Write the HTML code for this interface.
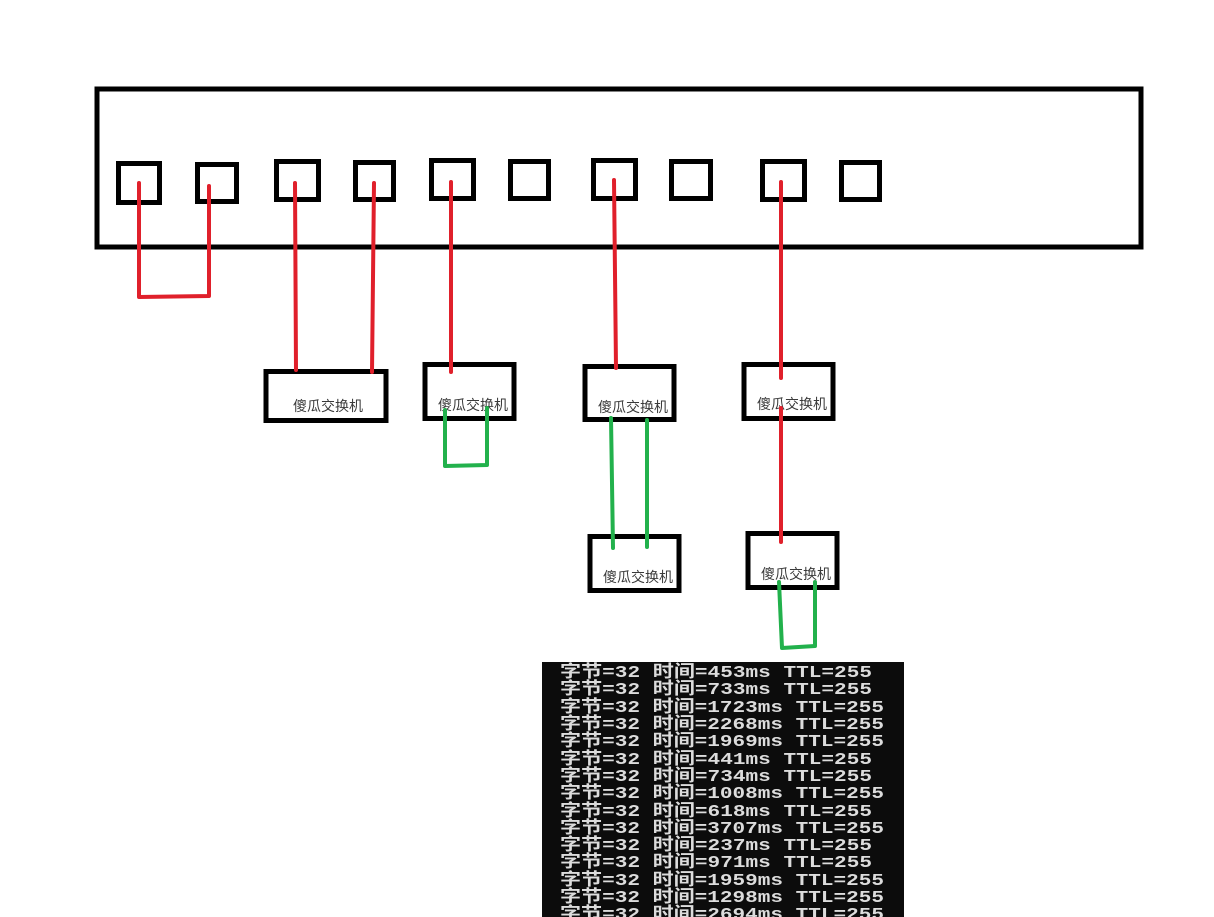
<!DOCTYPE html>
<html><head><meta charset="utf-8"><style>
html,body{margin:0;padding:0;background:#fff;}
svg{display:block;}
.t{font-family:"Liberation Sans","Noto Sans CJK SC",sans-serif;font-size:14px;fill:#3a3a3a;}
.m{font-family:"Liberation Mono","Noto Sans CJK SC",monospace;font-size:17px;font-weight:bold;fill:#dcdcdc;}
</style></head><body>
<svg width="1214" height="917" viewBox="0 0 1214 917" xmlns="http://www.w3.org/2000/svg">
<g fill="none" stroke="#000" stroke-width="5">
<rect x="97" y="89" width="1044" height="158"/>
<rect x="118.5" y="163.5" width="41" height="39"/>
<rect x="197.5" y="164.5" width="39" height="37"/>
<rect x="276.5" y="161.5" width="42" height="38"/>
<rect x="355.5" y="162.5" width="38" height="37"/>
<rect x="431.5" y="160.5" width="42" height="38"/>
<rect x="510.5" y="161.5" width="38" height="37"/>
<rect x="593.5" y="160.5" width="42" height="38"/>
<rect x="671.5" y="161.5" width="39" height="37"/>
<rect x="762.5" y="161.5" width="42" height="38"/>
<rect x="841.5" y="162.5" width="38" height="37"/>
<rect x="266" y="371.5" width="120" height="49"/>
<rect x="425" y="364.5" width="89" height="54"/>
<rect x="585" y="366.5" width="89" height="53"/>
<rect x="744" y="364.5" width="89" height="54"/>
<rect x="590" y="536.5" width="89" height="54"/>
<rect x="748" y="533.5" width="89" height="54"/>
</g>
<g class="t">
<text x="293" y="411">傻瓜交换机</text>
<text x="438" y="410">傻瓜交换机</text>
<text x="598" y="412">傻瓜交换机</text>
<text x="757" y="409">傻瓜交换机</text>
<text x="603" y="582">傻瓜交换机</text>
<text x="761" y="579">傻瓜交换机</text>
</g>
<g fill="none" stroke="#e0202b" stroke-width="4" stroke-linecap="round" stroke-linejoin="round">
<polyline points="139,183 139,297 209,296 209,186"/>
<line x1="295" y1="183" x2="296" y2="370"/>
<line x1="374" y1="183" x2="372" y2="372"/>
<line x1="451" y1="182" x2="451" y2="372"/>
<line x1="614" y1="180" x2="616" y2="368"/>
<line x1="781" y1="182" x2="781" y2="378"/>
<line x1="781" y1="408" x2="781" y2="542"/>
</g>
<g fill="none" stroke="#22b14c" stroke-width="4" stroke-linecap="round" stroke-linejoin="round">
<polyline points="445,410 445,466 487,465 487,408"/>
<line x1="611" y1="418" x2="613" y2="548"/>
<line x1="647" y1="420" x2="647" y2="547"/>
<polyline points="779,582 782,648 815,646 815,582"/>
</g>
<rect x="542" y="662" width="362" height="255" fill="#0c0c0c"/>
<g class="m" lengthAdjust="spacingAndGlyphs">
<text x="560" y="677" textLength="312" lengthAdjust="spacingAndGlyphs">字节=32 时间=453ms TTL=255</text>
<text x="560" y="694" textLength="312" lengthAdjust="spacingAndGlyphs">字节=32 时间=733ms TTL=255</text>
<text x="560" y="712" textLength="324" lengthAdjust="spacingAndGlyphs">字节=32 时间=1723ms TTL=255</text>
<text x="560" y="729" textLength="324" lengthAdjust="spacingAndGlyphs">字节=32 时间=2268ms TTL=255</text>
<text x="560" y="746" textLength="324" lengthAdjust="spacingAndGlyphs">字节=32 时间=1969ms TTL=255</text>
<text x="560" y="764" textLength="312" lengthAdjust="spacingAndGlyphs">字节=32 时间=441ms TTL=255</text>
<text x="560" y="781" textLength="312" lengthAdjust="spacingAndGlyphs">字节=32 时间=734ms TTL=255</text>
<text x="560" y="798" textLength="324" lengthAdjust="spacingAndGlyphs">字节=32 时间=1008ms TTL=255</text>
<text x="560" y="816" textLength="312" lengthAdjust="spacingAndGlyphs">字节=32 时间=618ms TTL=255</text>
<text x="560" y="833" textLength="324" lengthAdjust="spacingAndGlyphs">字节=32 时间=3707ms TTL=255</text>
<text x="560" y="850" textLength="312" lengthAdjust="spacingAndGlyphs">字节=32 时间=237ms TTL=255</text>
<text x="560" y="867" textLength="312" lengthAdjust="spacingAndGlyphs">字节=32 时间=971ms TTL=255</text>
<text x="560" y="885" textLength="324" lengthAdjust="spacingAndGlyphs">字节=32 时间=1959ms TTL=255</text>
<text x="560" y="902" textLength="324" lengthAdjust="spacingAndGlyphs">字节=32 时间=1298ms TTL=255</text>
<text x="560" y="919" textLength="324" lengthAdjust="spacingAndGlyphs">字节=32 时间=2694ms TTL=255</text>
</g>
</svg>
</body></html>
